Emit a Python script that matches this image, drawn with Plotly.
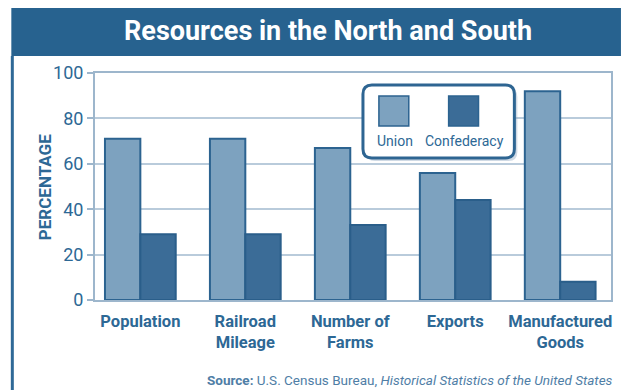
import plotly.graph_objects as go

# ---- data ----
categories = ["Population", "Railroad<br>Mileage", "Number of<br>Farms", "Exports", "Manufactured<br>Goods"]
union = [71, 71, 67, 56, 92]
confederacy = [29, 29, 33, 44, 8]
series_names = ["Union", "Confederacy"]
y_ticks = [0, 20, 40, 60, 80, 100]

W, H = 622, 390
ML, MR, MT, MB = 95, 9, 73, 90
PW, PH = W - ML - MR, H - MT - MB

def px(x):
    return (x - ML) / PW

def py(y):
    return (H - MB - y) / PH

FONT = "Roboto"
BLUE_TXT = "#2d6895"
UNION_FILL = "#7da2bf"
CONF_FILL = "#3b6c97"
BORDER = "#2c6390"

fig = go.Figure()
fig.add_trace(go.Bar(x=list(range(len(categories))), y=union, name=series_names[0],
                     marker=dict(color=UNION_FILL, line=dict(color=BORDER, width=2)), showlegend=False))
fig.add_trace(go.Bar(x=list(range(len(categories))), y=confederacy, name=series_names[1],
                     marker=dict(color=CONF_FILL, line=dict(color="#2a5e8a", width=2)), showlegend=False))

shapes = []
annotations = []
# title bar
shapes.append(dict(type="rect", xref="paper", yref="paper", x0=px(11), x1=px(623), y0=py(56), y1=py(8),
                   fillcolor="#27628f", line=dict(width=0), layer="above"))
# outer left frame line
shapes.append(dict(type="line", xref="paper", yref="paper", x0=px(12), x1=px(12), y0=py(56), y1=py(392),
                   line=dict(color="#2f6997", width=3)))
annotations.append(dict(text="<b>Resources in the North and South</b>", xref="paper", yref="paper",
                        x=px(329), y=py(31), xanchor="center", yanchor="middle", showarrow=False,
                        font=dict(family=FONT, size=27, color="white")))
# y-axis title
annotations.append(dict(text="<b>PERCENTAGE</b>", xref="paper", yref="paper", x=px(45), y=py(187),
                        xanchor="center", yanchor="middle", textangle=-90, showarrow=False,
                        font=dict(family=FONT, size=17, color=BLUE_TXT)))

# custom legend box (rounded)
def rrect(x0, y0, x1, y1, r):
    pts = [
        ("M", [(x0 + r, y0)]), ("L", [(x1 - r, y0)]), ("Q", [(x1, y0), (x1, y0 + r)]),
        ("L", [(x1, y1 - r)]), ("Q", [(x1, y1), (x1 - r, y1)]), ("L", [(x0 + r, y1)]),
        ("Q", [(x0, y1), (x0, y1 - r)]), ("L", [(x0, y0 + r)]), ("Q", [(x0, y0), (x0 + r, y0)]),
    ]
    s = ""
    for cmd, ps in pts:
        s += cmd + " " + " ".join(f"{px(a):.5f},{py(b):.5f}" for a, b in ps) + " "
    return s + "Z"

shapes.append(dict(type="path", xref="paper", yref="paper", path=rrect(367, 88, 519, 161, 9),
                   fillcolor="rgba(120,150,180,0.35)", line=dict(width=0), layer="above"))
shapes.append(dict(type="path", xref="paper", yref="paper", path=rrect(364, 85, 516, 158, 9),
                   fillcolor="white", line=dict(color="#2e6592", width=3), layer="above"))
legend_fills = [UNION_FILL, CONF_FILL]
legend_cx = [395, 465]
for name, fill, cx in zip(series_names, legend_fills, legend_cx):
    shapes.append(dict(type="rect", xref="paper", yref="paper", x0=px(cx - 15), x1=px(cx + 15),
                       y0=py(126), y1=py(96), fillcolor=fill, line=dict(color=BORDER, width=1.5), layer="above"))
    annotations.append(dict(text=name, xref="paper", yref="paper", x=px(cx + 1), y=py(141),
                            xanchor="center", yanchor="middle", showarrow=False,
                            font=dict(family=FONT, size=14, color=BLUE_TXT)))

# source
annotations.append(dict(text="<b>Source:</b> U.S. Census Bureau, <i>Historical Statistics of the United States</i>",
                        xref="paper", yref="paper", x=px(617), y=py(380), xanchor="right", yanchor="middle",
                        showarrow=False, font=dict(family=FONT, size=13.5, color="#4f7ea6")))

fig.update_layout(
    width=W, height=H,
    margin=dict(l=ML, r=MR, t=MT, b=MB),
    paper_bgcolor="white", plot_bgcolor="white",
    barmode="group", bargap=0.326, bargroupgap=0,
    shapes=shapes, annotations=annotations,
    font=dict(family=FONT, color=BLUE_TXT),
    xaxis=dict(range=[-0.432, 4.484], tickmode="array", tickvals=list(range(len(categories))),
               ticktext=[f"<b>{c}</b>" for c in categories], tickfont=dict(size=16.5, color=BLUE_TXT),
               showgrid=False, showline=True, linecolor="#9db6cc", linewidth=2, mirror=True,
               ticks="", ticklabelstandoff=5, fixedrange=True),
    yaxis=dict(range=[0, 100], tickvals=y_ticks, tickfont=dict(size=18, color=BLUE_TXT),
               showgrid=True, gridcolor="#b9cbdb", gridwidth=2, showline=True, linecolor="#9db6cc",
               linewidth=2, mirror=True, ticks="outside", ticklen=6, tickcolor="#9db6cc", tickwidth=2,
               zeroline=False),
)

fig.write_html("out.html")
